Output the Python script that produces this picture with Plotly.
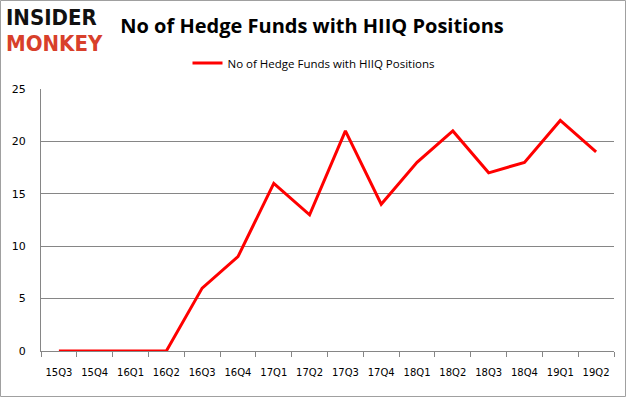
import plotly.graph_objects as go

quarters = ["15Q3", "15Q4", "16Q1", "16Q2", "16Q3", "16Q4", "17Q1", "17Q2",
            "17Q3", "17Q4", "18Q1", "18Q2", "18Q3", "18Q4", "19Q1", "19Q2"]
hedge_funds = [0, 0, 0, 0, 6, 9, 16, 13, 21, 14, 18, 21, 17, 18, 22, 19]
series_name = "No of Hedge Funds with HIIQ Positions"
y_ticks = [0, 5, 10, 15, 20, 25]

W, H = 626, 397
L, R, T, B = 41, 12, 89, 46
pw, ph = W - L - R, H - T - B

fig = go.Figure()
fig.add_trace(go.Scatter(
    x=quarters, y=hedge_funds, mode="lines", name=series_name,
    line=dict(color="#ff0000", width=3),
))

fig.update_layout(
    width=W, height=H,
    margin=dict(l=L, r=R, t=T, b=B, pad=0, autoexpand=False),
    paper_bgcolor="white", plot_bgcolor="white",
    font=dict(family="DejaVu Sans", size=10, color="#000000"),
    showlegend=True,
    legend=dict(orientation="h", x=(314 - L) / pw, xanchor="center", y=1 + (T - 63) / ph,
                yanchor="middle", font=dict(family="Open Sans", size=11.5), itemwidth=30,
                bgcolor="rgba(0,0,0,0)"),
    title=dict(text="<b>No of Hedge Funds with HIIQ Positions</b>", x=312 / W, xanchor="center",
               y=1 - 25.5 / H, yanchor="middle",
               font=dict(family="Open Sans", size=20, color="#000000")),
    xaxis=dict(
        type="category", tickson="boundaries", ticks="outside", ticklen=5,
        range=[-0.5, len(quarters) - 0.5], tickangle=0,
        tickcolor="#868686", showline=True, linecolor="#868686", linewidth=1,
        showgrid=False, ticklabelstandoff=12, tickfont=dict(size=10),
    ),
    yaxis=dict(
        range=[0, 25], tickvals=y_ticks, showgrid=True, gridcolor="#868686", gridwidth=1,
        showline=True, linecolor="#868686", linewidth=1, ticks="", zeroline=False,
        ticklabelstandoff=12, tickfont=dict(size=11),
    ),
)

# Outer gray border around the whole image
fig.add_shape(type="rect", xref="paper", yref="paper",
              x0=(-L + 0.5) / pw, x1=1 + (R - 0.5) / pw,
              y0=(-B + 0.5) / ph, y1=1 + (T - 0.5) / ph,
              line=dict(color="#a0a0a0", width=1), fillcolor="rgba(0,0,0,0)", layer="below")

# Logo
logo_font = "DejaVu Sans Condensed, DejaVu Sans"
fig.add_annotation(text="<b>INSIDER</b>", xref="paper", yref="paper",
                   x=(4 - L) / pw, y=1 + (T - 18) / ph, xanchor="left", yanchor="middle",
                   showarrow=False, font=dict(family=logo_font, size=22, color="#111111"))
fig.add_annotation(text="<b>MONKEY</b>", xref="paper", yref="paper",
                   x=(4 - L) / pw, y=1 + (T - 43) / ph, xanchor="left", yanchor="middle",
                   showarrow=False, font=dict(family=logo_font, size=22, color="#d8402b"))

html = fig.to_html(full_html=True, config={"displayModeBar": False})
html = html.replace("<head>", "<head><style>html,body{margin:0;padding:0;overflow:hidden;}</style>", 1)
with open("out.html", "w", encoding="utf-8") as f:
    f.write(html)
